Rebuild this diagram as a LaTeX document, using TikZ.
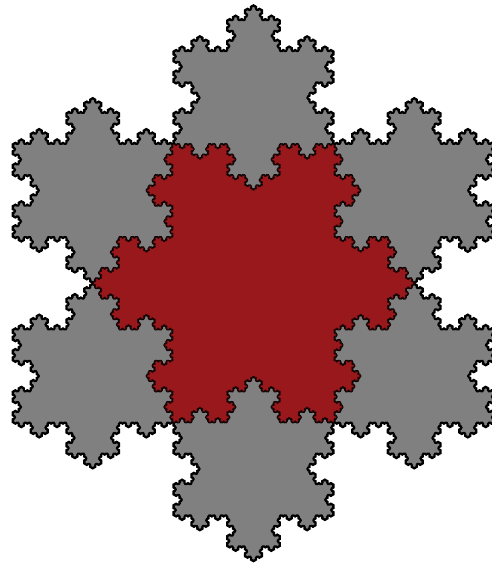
\documentclass[tikz,border=0pt]{standalone}
\usetikzlibrary{lindenmayersystems}
\pgfdeclarelindenmayersystem{Koch}{\rule{F -> F-F++F-F}}
\definecolor{snowred}{RGB}{152,24,27}
\definecolor{snowgray}{RGB}{128,128,128}
\tikzset{
  graysnow/.style={fill=snowgray, draw=black, line width=1.6pt, line join=round},
  redsnow/.style={fill=snowred, draw=black!75!snowred, line width=0.6pt, line join=round},
}
\begin{document}
\begin{tikzpicture}[x=1pt,y=1pt]
\useasboundingbox (0,0) rectangle (492,567);
\coordinate (c) at (253.5,283.75);
\foreach \a in {30,90,...,330} {
  \begin{scope}[shift={(c)}, shift={(\a:185.6)}, shift={(210:92.8)}]
    \draw[graysnow, lindenmayer system={Koch, axiom=F++F++F, order=5, step=0.6613pt, angle=60}]
      (0,0) lindenmayer system -- cycle;
  \end{scope}
}
\begin{scope}[shift={(c)}, shift={(240:160.7)}, rotate=30]
  \draw[redsnow, lindenmayer system={Koch, axiom=F++F++F, order=5, step=1.1457pt, angle=60}]
    (0,0) lindenmayer system -- cycle;
\end{scope}
\end{tikzpicture}
\end{document}
